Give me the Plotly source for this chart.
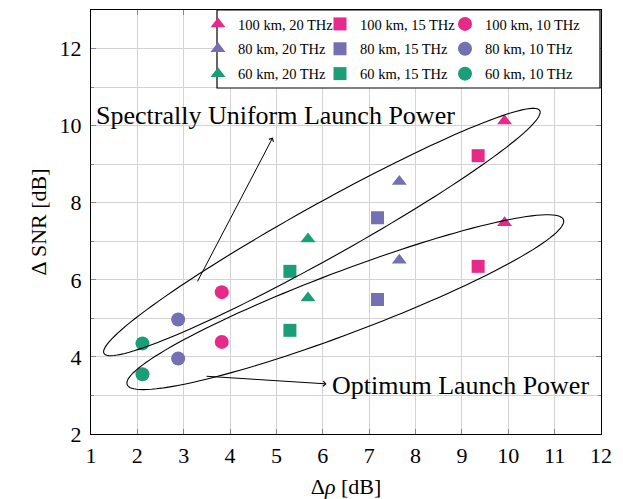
import numpy as np
import plotly.graph_objects as go

# ---------------- data ----------------
labels = ["100 km, 20 THz", "100 km, 15 THz", "100 km, 10 THz",
          "80 km, 20 THz", "80 km, 15 THz", "80 km, 10 THz",
          "60 km, 20 THz", "60 km, 15 THz", "60 km, 10 THz"]
symbols = ["triangle-up", "square", "circle"] * 3
colors = ["#e7298a"] * 3 + ["#7570b3"] * 3 + ["#1b9e77"] * 3
legend_cols = ["legend", "legend2", "legend3"] * 3

# delta rho (x) for each series (two points each: uniform / optimum)
x_vals = [
    [9.92, 9.92],   # 100 km 20 THz
    [9.35, 9.35],   # 100 km 15 THz
    [3.82, 3.82],   # 100 km 10 THz
    [7.65, 7.65],   # 80 km 20 THz
    [7.18, 7.18],   # 80 km 15 THz
    [2.88, 2.88],   # 80 km 10 THz
    [5.68, 5.68],   # 60 km 20 THz
    [5.29, 5.29],   # 60 km 15 THz
    [2.11, 2.11],   # 60 km 10 THz
]
y_vals = [
    [10.12, 7.48],
    [9.22, 6.35],
    [5.68, 4.39],
    [8.55, 6.51],
    [7.61, 5.49],
    [4.97, 3.96],
    [7.06, 5.53],
    [6.22, 4.69],
    [4.35, 3.55],
]

# ellipse tips (data) and half-width in px
ell_upper = dict(p1=(1.28, 4.09), p2=(10.68, 10.39), b=27)
ell_lower = dict(p1=(1.78, 3.28), p2=(11.19, 7.56), b=31)

# layout geometry
W, H = 623, 499
ML, MR, MT, MB = 91, 22, 10, 65
XR = (1, 12)
YR = (2, 13)
PW, PH = W - ML - MR, H - MT - MB
SX = PW / (XR[1] - XR[0])
SY = PH / (YR[1] - YR[0])

FONT = "Liberation Serif"

fig = go.Figure()
for i, (lab, sym, col, xs, ys, lg) in enumerate(zip(labels, symbols, colors, x_vals, y_vals, legend_cols)):
    size = 14 if sym == "circle" else 13
    fig.add_trace(go.Scatter(
        x=xs, y=ys, mode="markers", name=lab, legend=lg, legendgroup=f"g{i}",
        marker=dict(symbol=sym, color=col, size=size, line=dict(width=0)),
    ))


def ellipse_path(p1, p2, b, n=140):
    x1, y1 = p1[0] * SX, p1[1] * SY
    x2, y2 = p2[0] * SX, p2[1] * SY
    cx, cy = (x1 + x2) / 2, (y1 + y2) / 2
    a = np.hypot(x2 - x1, y2 - y1) / 2
    ang = np.arctan2(y2 - y1, x2 - x1)
    t = np.linspace(0, 2 * np.pi, n)
    ex = cx + a * np.cos(t) * np.cos(ang) - b * np.sin(t) * np.sin(ang)
    ey = cy + a * np.cos(t) * np.sin(ang) + b * np.sin(t) * np.cos(ang)
    xs, ys = ex / SX, ey / SY
    return "M " + " L ".join(f"{xx:.4f},{yy:.4f}" for xx, yy in zip(xs, ys)) + " Z"


for e in (ell_upper, ell_lower):
    fig.add_shape(type="path", path=ellipse_path(e["p1"], e["p2"], e["b"]),
                  xref="x", yref="y", line=dict(color="black", width=1.1),
                  fillcolor="rgba(0,0,0,0)", layer="above")


def px2paper_x(px):
    return (px - ML) / PW


def px2paper_y(py):
    return (MT + PH - py) / PH


# legend frame (white box)
fig.add_shape(type="rect", xref="paper", yref="paper",
              x0=px2paper_x(217), x1=px2paper_x(600),
              y0=px2paper_y(88), y1=px2paper_y(10),
              line=dict(color="black", width=1.2), fillcolor="white", layer="above")

# arrows
fig.add_annotation(x=4.92, y=9.69, ax=3.28, ay=5.92, xref="x", yref="y",
                   axref="x", ayref="y", text="", showarrow=True,
                   arrowhead=4, arrowsize=1, arrowwidth=1, arrowcolor="black")
fig.add_annotation(x=6.08, y=3.30, ax=3.46, ay=3.50, xref="x", yref="y",
                   axref="x", ayref="y", text="", showarrow=True,
                   arrowhead=4, arrowsize=1, arrowwidth=1, arrowcolor="black")

fig.add_annotation(x=4.99, y=10.27, xref="x", yref="y", text="Spectrally Uniform Launch Power",
                   showarrow=False, font=dict(family=FONT, size=26, color="black"))
fig.add_annotation(x=8.96, y=3.27, xref="x", yref="y", text="Optimum Launch Power",
                   showarrow=False, font=dict(family=FONT, size=26, color="black"))

leg_common = dict(orientation="v", yanchor="top", y=px2paper_y(8), xanchor="left",
                  bgcolor="rgba(0,0,0,0)", borderwidth=0, tracegroupgap=3,
                  font=dict(family=FONT, size=14.5, color="black"), itemwidth=30)
tick_font = dict(family=FONT, size=22, color="black")

fig.update_layout(
    width=W, height=H,
    margin=dict(l=ML, r=MR, t=MT, b=MB, autoexpand=False),
    paper_bgcolor="white", plot_bgcolor="white",
    font=dict(family=FONT, size=22, color="black"),
    showlegend=True,
    legend=dict(x=px2paper_x(198), **leg_common),
    legend2=dict(x=px2paper_x(320), **leg_common),
    legend3=dict(x=px2paper_x(445), **leg_common),
    xaxis=dict(range=list(XR), tickmode="linear", tick0=1, dtick=1,
               showgrid=True, gridcolor="#d3d3d3", gridwidth=1,
               showline=True, linecolor="black", linewidth=1, mirror="ticks",
               ticks="inside", ticklen=5, tickcolor="#888", zeroline=False,
               tickfont=tick_font, ticklabelstandoff=2, automargin=False,
               title=dict(text="Δ<i>ρ</i> [dB]", standoff=11,
                          font=dict(family=FONT, size=22, color="black"))),
    yaxis=dict(range=list(YR), tickmode="array", tickvals=[2, 4, 6, 8, 10, 12],
               showgrid=True, gridcolor="#d3d3d3", gridwidth=1,
               showline=True, linecolor="black", linewidth=1, mirror="ticks",
               ticks="inside", ticklen=5, tickcolor="#888", zeroline=False,
               tickfont=tick_font, ticklabelstandoff=4, automargin=False,
               minor=dict(dtick=1, tick0=2, showgrid=True, gridcolor="#d3d3d3",
                          ticks="inside", ticklen=3, tickcolor="#888"),
               title=dict(text="Δ SNR [dB]", standoff=6,
                          font=dict(family=FONT, size=22, color="black"))),
)

fig.write_html("out.html")
